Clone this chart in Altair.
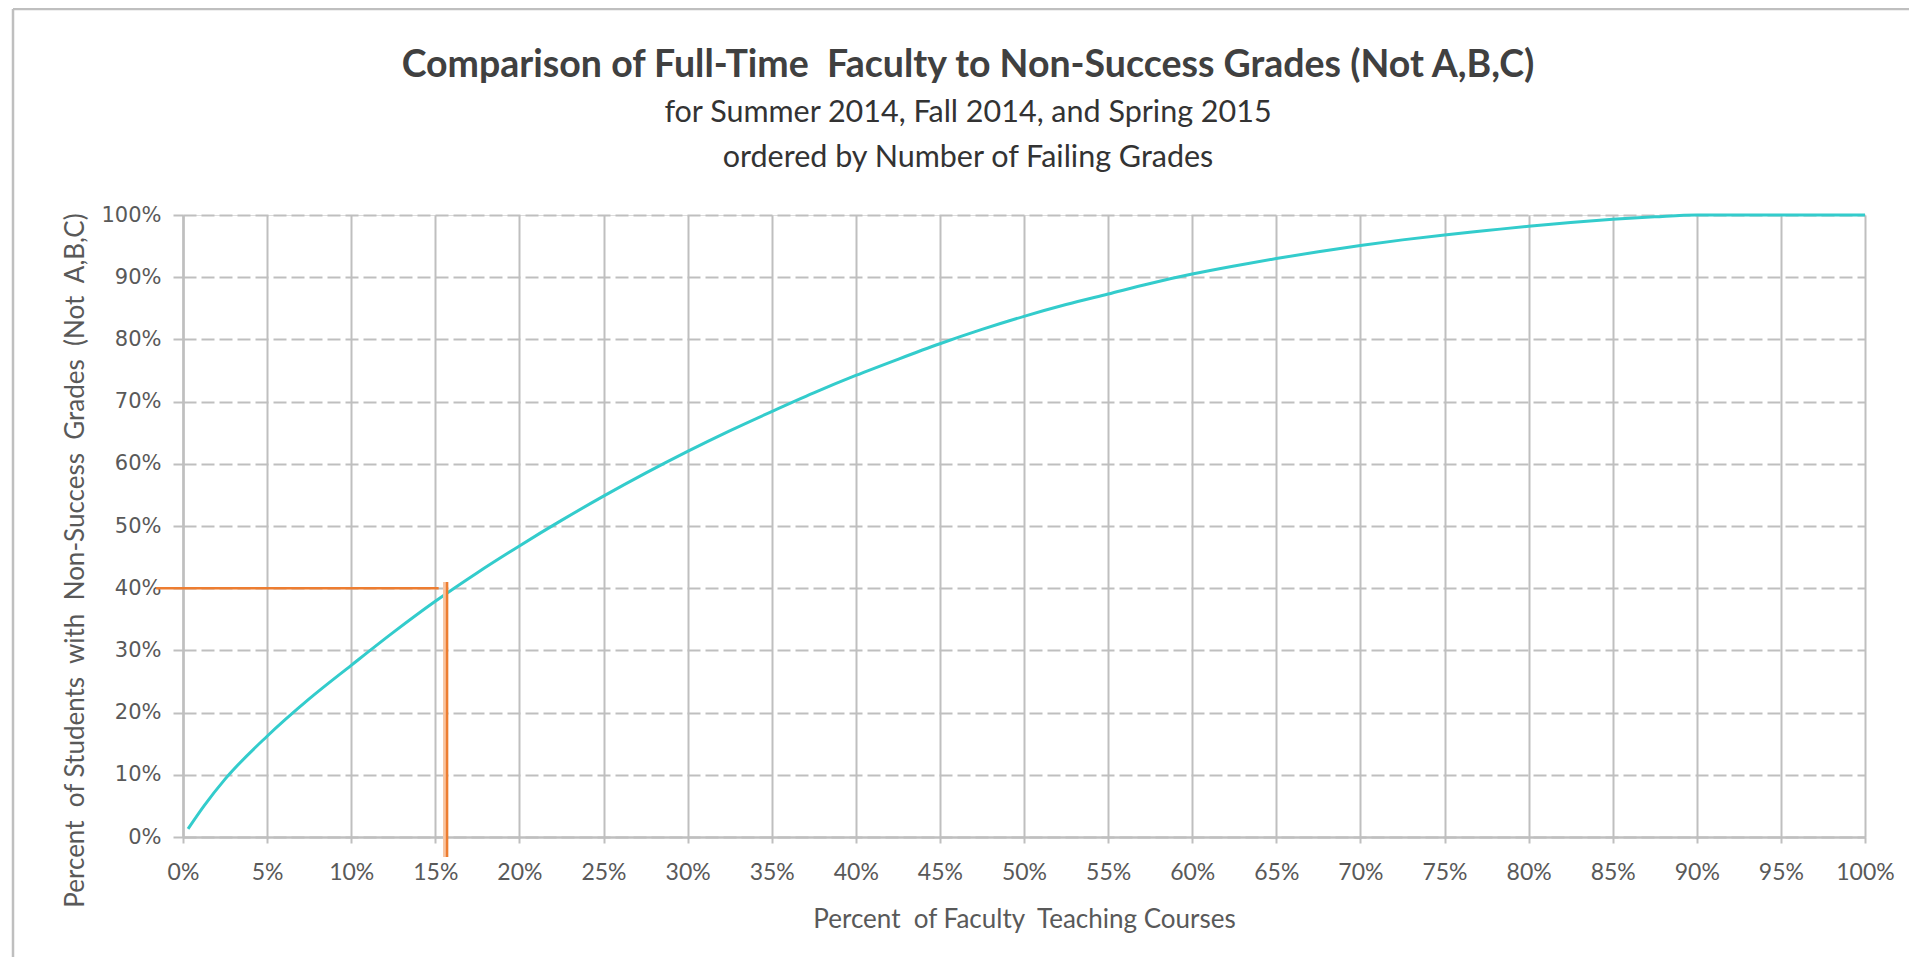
import altair as alt
import pandas as pd

# Cumulative curve (percent of faculty -> percent of non-success grades)
faculty_pct = [0.3, 1.25, 2.5, 5.0, 7.5, 10.0, 12.5, 15.0, 17.5, 20.0, 22.5, 25.0, 27.5, 30.0,
               32.5, 35.0, 37.5, 40.0, 42.5, 45.0, 47.5, 50.0, 52.5, 55.0, 57.5, 60.0, 62.5,
               65.0, 67.5, 70.0, 72.5, 75.0, 77.5, 80.0, 82.5, 85.0, 87.5, 90.0, 100.0]
students_pct = [1.3, 5.0, 9.3, 16.2, 22.2, 27.6, 32.9, 37.9, 42.5, 46.8, 50.9, 54.8, 58.5, 62.0,
                65.3, 68.4, 71.4, 74.2, 76.8, 79.3, 81.6, 83.7, 85.6, 87.3, 89.0, 90.5, 91.8,
                93.0, 94.1, 95.1, 96.0, 96.8, 97.5, 98.2, 98.8, 99.3, 99.7, 100.0, 100.0]

# Orange reference lines (40% of students)
ref_h_x = [-1.6, 15.2]
ref_h_y = [40, 40]
ref_v_x = [15.7, 15.7]
ref_v_y = [41, -3.2]
ref_v_halo_x = [15.55, 15.55]

x_ticks = list(range(0, 101, 5))
y_ticks = list(range(0, 101, 10))

NB = "\u00a0"
TITLE = "Comparison of Full-Time" + NB + " Faculty to Non-Success Grades (Not A,B,C)"
SUBTITLE = ["for Summer 2014, Fall 2014, and Spring 2015", "ordered by Number of Failing Grades"]
X_TITLE = "Percent" + NB + " of Faculty" + NB + " Teaching Courses"
Y_TITLE = ("Percent" + NB + " of Students" + NB + " with" + NB + " Non-Success" + NB
           + " Grades" + NB + " (Not" + NB + " A,B,C)")

W, H = 1682, 622
PAD = {"left": 175, "top": 207, "right": 44, "bottom": 120}

curve = pd.DataFrame({"x": faculty_pct, "y": students_pct})
h_df = pd.DataFrame({"x": ref_h_x, "y": ref_h_y})
v_df = pd.DataFrame({"x": ref_v_x, "y": ref_v_y})
vh_df = pd.DataFrame({"x": ref_v_halo_x, "y": ref_v_y})

xscale = alt.Scale(domain=[0, 100], nice=False, zero=False)
yscale = alt.Scale(domain=[0, 100], nice=False, zero=False)

x_axis = alt.Axis(
    values=x_ticks, labelExpr="datum.value + '%'", title=X_TITLE,
    grid=True, gridColor="#BFBFBF", gridWidth=2,
    domainColor="#BFBFBF", domainWidth=2.5,
    tickColor="#BFBFBF", tickSize=6, tickWidth=2,
    labelFont="Lato", labelFontSize=23, labelColor="#595959", labelPadding=18,
    labelFlush=False,
    titleFont="Lato", titleFontSize=26, titleFontWeight="normal", titleColor="#595959",
    titleBaseline="alphabetic", titleY=90.5,
)
y_axis = alt.Axis(
    values=y_ticks, labelExpr="datum.value + '%'", title=Y_TITLE,
    grid=True, gridColor="#BFBFBF", gridWidth=2, gridDash=[13, 5],
    domainColor="#BFBFBF", domainWidth=2.5,
    tickColor="#BFBFBF", tickSize=10, tickWidth=2,
    labelFont="DejaVu Sans", labelFontSize=21, labelColor="#595959", labelPadding=12,
    labelFlush=False,
    titleFont="Lato", titleFontSize=26, titleFontWeight="normal", titleColor="#595959",
    titleAngle=270, titleBaseline="middle", titleAlign="center", titleX=-108, titleY=345,
)

base_x = alt.X("x:Q", scale=xscale, axis=x_axis)
base_y = alt.Y("y:Q", scale=yscale, axis=y_axis)

line = alt.Chart(curve).mark_line(color="#33CCCC", strokeWidth=3, interpolate="monotone").encode(
    x=base_x, y=base_y
)
halo = alt.Chart(vh_df).mark_line(color="#F8C4A0", strokeWidth=3).encode(x="x:Q", y="y:Q")
vline = alt.Chart(v_df).mark_line(color="#ED7D31", strokeWidth=2.5).encode(x="x:Q", y="y:Q")
hline = alt.Chart(h_df).mark_line(color="#ED7D31", strokeWidth=2.5).encode(x="x:Q", y="y:Q")

one = alt.Data(values=[{"a": 1}])
border_left = alt.Chart(one).mark_rule(color="#BFBFBF", strokeWidth=2.5).encode(
    x=alt.value(-170), y=alt.value(-206), y2=alt.value(H + PAD["bottom"])
)
border_top = alt.Chart(one).mark_rule(color="#BFBFBF", strokeWidth=2.5).encode(
    x=alt.value(-170), x2=alt.value(W + PAD["right"]), y=alt.value(-206)
)

chart = alt.layer(line, halo, vline, hline, border_left, border_top).properties(
    width=W, height=H,
    title=alt.TitleParams(
        text=TITLE, subtitle=SUBTITLE,
        font="Lato", fontSize=37.5, fontWeight="bold", color="#404040",
        subtitleFont="Lato", subtitleFontSize=30.5, subtitleColor="#333333",
        subtitleLineHeight=45, subtitlePadding=13.5,
        anchor="middle", frame="bounds", dy=170, dx=7,
    ),
    autosize=alt.AutoSizeParams(type="none"),
    padding=PAD,
).configure_view(stroke=None).configure(background="white")

chart.save("out.html", embed_options={"renderer": "svg", "actions": False})
